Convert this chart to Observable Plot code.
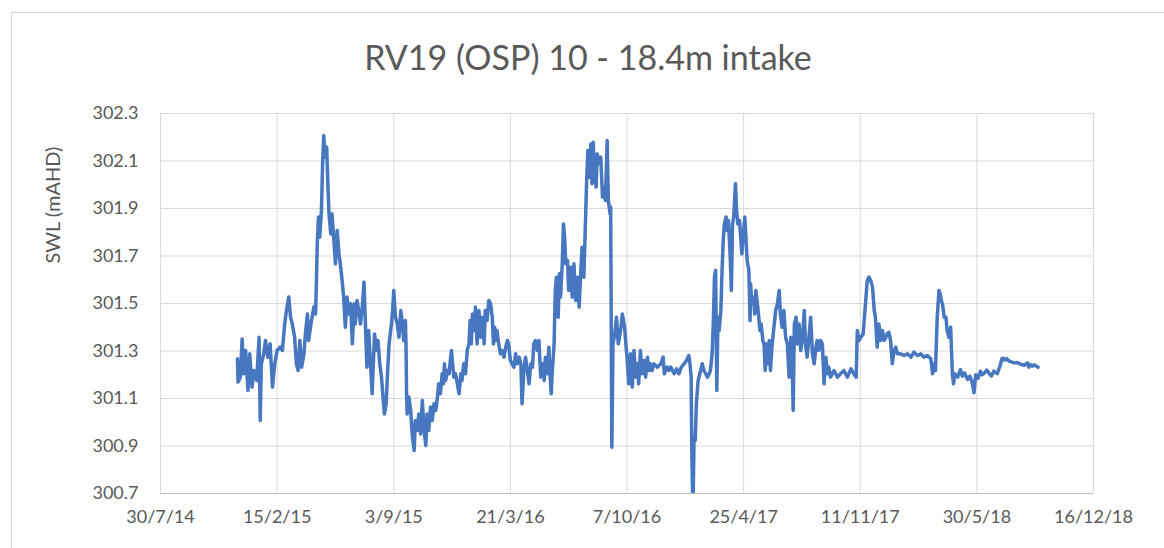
<!DOCTYPE html>
<html>
<head>
<meta charset="utf-8">
<script src="https://cdn.jsdelivr.net/npm/d3@7"></script>
<script src="https://cdn.jsdelivr.net/npm/@observablehq/plot@0.6"></script>
<style>
  body { margin: 0; background: #fff; }
  #frame { position: relative; width: 1164px; height: 548px; overflow: hidden; background: #fff; font-family: Lato, "Open Sans", sans-serif; }
  #border { position: absolute; left: 11px; top: 12px; width: 1300px; height: 700px; border: 1px solid #d9d9d9; box-sizing: border-box; }
  #title { position: absolute; left: 12px; top: 37px; width: 1152px; text-align: center; font-size: 34px; color: #595959; line-height: 40px; white-space: nowrap; }
  #chart { position: absolute; left: 0; top: 90px; }
</style>
</head>
<body>
<div id="frame">
  <div id="border"></div>
  <div id="title"></div>
  <div id="chart"></div>
</div>
<script>
// ---- text ----
const chartTitle = "RV19 (OSP) 10 - 18.4m intake";
const yAxisTitle = "SWL (mAHD)";

// ---- axes (dates as Excel serial numbers) ----
const xTickSerials = [41850, 42050, 42250, 42450, 42650, 42850, 43050, 43250, 43450];
const xTickLabels = ["30/7/14", "15/2/15", "3/9/15", "21/3/16", "7/10/16", "25/4/17", "11/11/17", "30/5/18", "16/12/18"];
const yTicks = [300.7, 300.9, 301.1, 301.3, 301.5, 301.7, 301.9, 302.1, 302.3];

// ---- series: date (Excel serial) and standing water level (mAHD) ----
const serial = [
  41982,41983,41987,41990,41993,41996,42000,42003,42007,42010,
  42015,42019,42021,42023,42027,42030,42034,42038,42042,42046,
  42050,42055,42059,42063,42066,42070,42073,42076,42080,42083,
  42086,42089,42092,42096,42099,42102,42104,42108,42113,42116,
  42119,42121,42123,42126,42128,42130,42132,42135,42137,42139,
  42142,42144,42147,42150,42153,42156,42159,42162,42164,42167,
  42170,42173,42176,42179,42182,42184,42187,42190,42193,42196,
  42199,42202,42204,42207,
  42213,42217,42221,42223,42226,42229,42232,42234,42237,42239,
  42242,42246,42248,42250,42253,42256,42259,42262,42265,42267,
  42270,42271,42272,42273,42276,42279,42282,42285,42287,42290,
  42293,42296,42299,42302,42305,42307,42310,42313,42316,42319,
  42322,42325,42327,42330,42333,42335,42337,42339,42342,42345,
  42347,42349,42351,42353,42356,42359,42362,42365,42367,42370,
  42373,42376,42379,42381,42383,42385,42388,42390,42393,42396,
  42399,42402,42405,42407,42410,42413,42416,42419,42421,42423,
  42425,42427,42430,42433,42436,42439,42442,42445,42447,42450,
  42453,42456,42459,42462,42465,
  42468,42470,42473,42476,42479,42482,42485,42488,42490,42493,
  42496,42499,42502,42505,42508,42510,42513,42516,42518,42520,
  42522,42525,42527,42529,42532,42534,42536,42539,42541,42543,
  42545,42548,42550,42553,42556,42559,42562,42565,42568,42570,
  42573,42576,42579,42581,42583,42585,42588,42590,42592,42594,
  42597,42599,42602,42605,42608,42610,42613,42616,42618,42621,
  42622,42624,42626,42629,42632,42635,42639,42642,42646,42648,
  42650,42653,42656,42659,42662,42665,42668,42670,42673,42676,
  42679,42682,42685,42688,42690,42693,42696,42702,42708,42712,
  42714,42719,42722,
  42725,42731,42735,42739,42743,42748,42752,42756,42758,42760,
  42761,42763,42765,42767,42769,42772,42775,42779,42782,42785,
  42788,42791,42793,42796,42798,42800,42802,42804,42806,42808,
  42811,42813,42815,42817,42820,42822,42824,42827,42829,42831,
  42833,42836,42838,42840,42843,42845,42847,42849,42852,42854,
  42856,42859,42861,42862,42864,42867,42869,42871,42873,42876,
  42878,42880,42883,42885,42887,42889,42892,42894,42896,42899,
  42902,42905,42908,42911,42913,42916,42919,42922,42925,42928,
  42931,42933,42935,42937,42940,42942,42945,42948,42951,42954,
  42956,42959,42962,42965,42968,42971,42974,42976,42979,
  42982,42985,42988,42991,42994,42996,42999,43005,43011,43016,
  43022,43028,43034,43039,43043,43045,43048,43051,43055,43059,
  43062,43065,43068,43071,43074,43076,43079,43082,43085,43088,
  43091,43094,43096,43099,43102,43105,43108,43111,43114,43119,
  43125,43131,43137,43142,43148,43154,43159,43165,43171,43174,
  43177,43179,43182,43185,43187,43189,43191,43194,43197,43199,
  43202,43205,43208,43210,43212,43217,43219,
  43222,43225,43229,43234,43238,43242,43245,43248,43252,43256,
  43259,43262,43267,43271,43275,43279,43285,43290,43293,43295,
  43298,43301,43305,43308,43314,43319,43325,43331,43337,43339,
  43342,43345,43348,43355
];
const swl = [
  301.267,301.169,301.190,301.351,301.204,301.302,301.134,301.288,301.148,301.218,
  301.176,301.358,301.007,301.246,301.288,301.344,301.274,301.330,301.148,301.246,
  301.302,301.316,301.302,301.414,301.471,301.527,301.442,301.414,301.358,301.246,
  301.218,301.344,301.232,301.288,301.386,301.456,301.344,301.414,301.485,301.456,
  301.765,301.864,301.779,301.892,302.088,302.207,302.116,302.158,302.004,301.878,
  301.793,301.878,301.779,301.667,301.807,301.709,301.653,301.583,301.527,301.400,
  301.527,301.456,301.499,301.330,301.499,301.414,301.513,301.471,301.414,301.485,
  301.590,301.372,301.232,301.386,
  301.120,301.372,301.302,301.344,301.246,301.190,301.092,301.035,301.078,301.190,
  301.330,301.414,301.471,301.555,301.442,301.414,301.358,301.471,301.414,301.344,
  301.428,301.330,301.120,301.035,301.106,301.050,300.937,300.881,301.007,300.965,
  301.035,300.951,301.092,300.965,300.902,301.035,300.965,301.064,301.007,301.078,
  301.050,301.106,301.162,301.120,301.204,301.162,301.246,301.176,301.218,301.204,
  301.260,301.302,301.246,301.190,301.204,301.162,301.120,301.204,301.176,301.246,
  301.204,301.302,301.330,301.428,301.330,301.456,301.386,301.485,301.330,301.471,
  301.358,301.442,301.330,301.471,301.428,301.513,301.499,301.442,301.330,301.400,
  301.344,301.386,301.330,301.288,301.302,301.274,301.316,301.344,301.330,301.260,
  301.246,301.232,301.288,301.246,301.274,
  301.246,301.078,301.218,301.274,301.218,301.162,301.246,301.232,301.330,301.344,
  301.302,301.344,301.190,301.246,301.176,301.274,301.204,301.316,301.204,301.120,
  301.218,301.330,301.555,301.611,301.442,301.625,301.527,301.667,301.835,301.779,
  301.667,301.681,301.555,301.653,301.527,301.667,301.513,301.611,301.485,301.597,
  301.737,301.611,301.864,302.032,302.144,302.032,302.172,302.004,302.179,302.074,
  301.990,302.130,302.088,302.116,301.948,301.990,301.934,302.186,301.934,301.878,
  301.906,300.895,301.330,301.372,301.442,301.330,301.386,301.456,301.400,301.330,
  301.274,301.162,301.288,301.148,301.302,301.190,301.246,301.162,301.302,301.204,
  301.260,301.190,301.274,301.218,301.246,301.218,301.246,301.232,301.246,301.274,
  301.204,301.232,301.218,
  301.232,301.204,301.225,301.204,301.232,301.246,301.260,301.281,301.246,301.190,
  300.909,300.620,300.937,300.923,301.078,301.176,301.204,301.246,301.218,301.204,
  301.190,301.204,301.218,301.288,301.414,301.611,301.639,301.134,301.442,301.386,
  301.471,301.639,301.765,301.835,301.864,301.807,301.849,301.695,301.555,301.835,
  301.864,302.004,301.892,301.835,301.849,301.779,301.709,301.779,301.864,301.779,
  301.681,301.639,301.428,301.583,301.499,301.527,301.456,301.555,301.513,301.442,
  301.386,301.414,301.344,301.330,301.218,301.330,301.246,301.344,301.218,301.330,
  301.400,301.471,301.499,301.555,301.456,301.400,301.471,301.358,301.330,301.190,
  301.358,301.274,301.050,301.414,301.442,301.330,301.414,301.302,301.358,301.471,
  301.330,301.274,301.358,301.442,301.288,301.246,301.316,301.344,301.302,
  301.344,301.330,301.162,301.274,301.204,301.232,301.190,301.218,301.190,301.204,
  301.218,301.190,301.225,301.204,301.190,301.386,301.344,301.358,301.372,301.499,
  301.597,301.611,301.597,301.569,301.471,301.442,301.316,301.414,301.344,301.386,
  301.344,301.358,301.372,301.379,301.344,301.246,301.302,301.316,301.288,301.288,
  301.281,301.288,301.274,301.295,301.281,301.288,301.274,301.281,301.267,301.204,
  301.246,301.218,301.442,301.555,301.541,301.513,301.499,301.442,301.442,301.386,
  301.358,301.400,301.204,301.162,301.204,301.190,301.204,
  301.222,301.194,301.208,301.180,301.194,301.166,301.124,301.200,301.185,301.215,
  301.200,301.205,301.220,301.205,301.195,301.215,301.205,301.240,301.268,301.270,
  301.262,301.268,301.258,301.255,301.250,301.252,301.245,301.240,301.250,301.232,
  301.242,301.236,301.242,301.232
];

const fromSerial = s => new Date(Date.UTC(1899, 11, 30) + s * 864e5);
const data = serial.map((s, i) => ({date: fromSerial(s), level: swl[i]}));
const xTicks = xTickSerials.map(fromSerial);
const labelOf = d => xTickLabels[xTicks.findIndex(t => +t === +d)];

document.getElementById("title").textContent = chartTitle;

const chart = Plot.plot({
  width: 1164,
  height: 458,
  marginLeft: 160,
  marginRight: 71,
  marginTop: 23,
  marginBottom: 55,
  style: {fontFamily: "Lato, 'Open Sans', sans-serif", fontSize: "18px", color: "#595959", background: "transparent", overflow: "visible"},
  x: {type: "utc", domain: [xTicks[0], xTicks[xTicks.length - 1]], ticks: xTicks, tickFormat: labelOf, tickSize: 0, tickPadding: 17, label: null},
  y: {domain: [yTicks[0], yTicks[yTicks.length - 1]], ticks: yTicks, tickFormat: d => d.toFixed(1), tickSize: 0, tickPadding: 22, label: null},
  marks: [
    Plot.gridX(xTicks, {stroke: "#d9d9d9", strokeOpacity: 1}),
    Plot.gridY(yTicks, {stroke: "#d9d9d9", strokeOpacity: 1}),
    Plot.ruleY([yTicks[0]], {stroke: "#bfbfbf", strokeWidth: 1}),
    Plot.lineY(data, {x: "date", y: "level", stroke: "#4677c0", strokeWidth: 3.5, strokeLinejoin: "round", clip: true}),
    Plot.text([yAxisTitle], {frameAnchor: "top-left", rotate: -90, dx: -115, dy: 150, fontSize: 20, fill: "#595959"})
  ]
});
document.getElementById("chart").appendChild(chart);
</script>
</body>
</html>
